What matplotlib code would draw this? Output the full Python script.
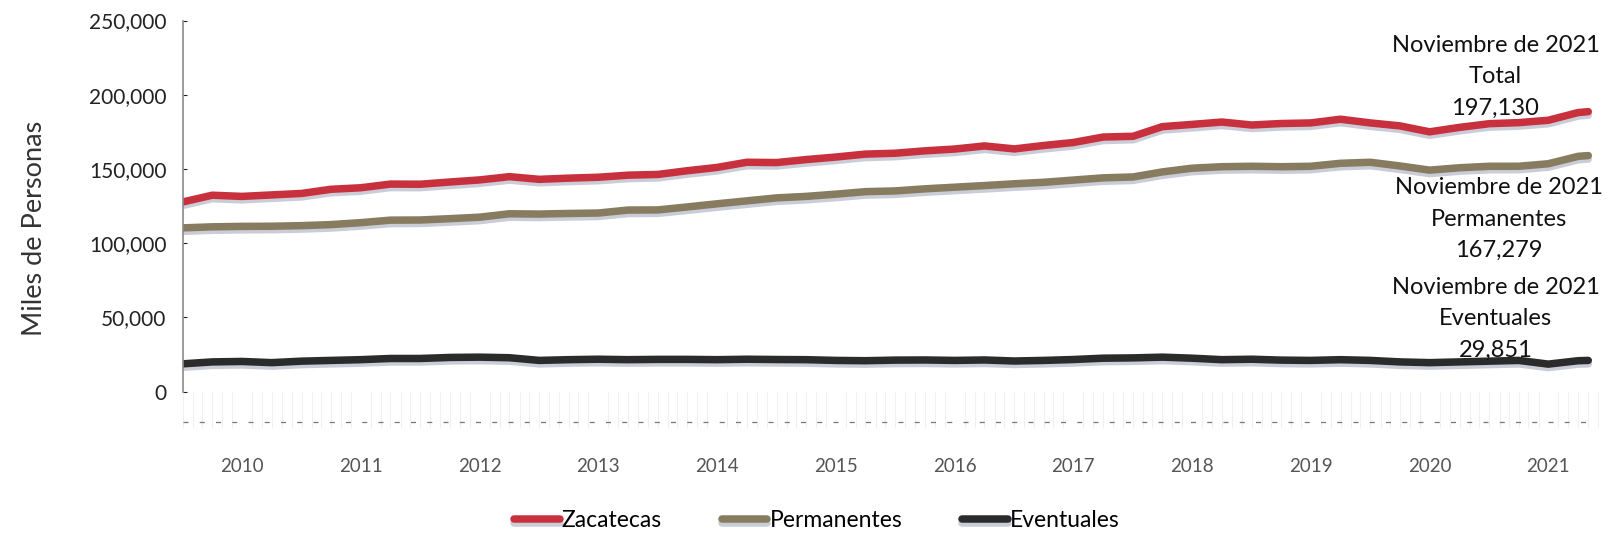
import pandas as pd
import matplotlib.pyplot as plt
import matplotlib.dates as mdates
import matplotlib.patheffects as pe
from matplotlib.ticker import FuncFormatter
from matplotlib.lines import Line2D

plt.rcParams['font.family'] = ['Lato', 'DejaVu Sans']

# quarterly readings (thousands of people), Jan 2010 .. Oct 2021, plus Nov 2021
fechas = list(pd.date_range('2010-01-01', periods=48, freq='3MS')) + [pd.Timestamp('2021-11-01')]

total = [127.8, 132.3, 131.5, 132.5, 133.5, 136.3, 137.3, 139.8, 139.7, 141.2, 142.6, 144.8,
         143.0, 143.8, 144.4, 145.8, 146.3, 148.8, 151.0, 154.5, 154.3, 156.3, 158.0, 160.0,
         160.6, 162.2, 163.4, 165.5, 163.5, 165.8, 167.8, 171.5, 172.0, 178.5, 180.0, 181.6,
         179.6, 180.6, 181.0, 183.5, 181.0, 179.0, 175.0, 178.0, 180.5, 181.2, 182.8, 188.0,
         188.6]
permanentes = [110.3, 111.0, 111.3, 111.4, 111.8, 112.5, 113.8, 115.5, 115.6, 116.5, 117.5, 119.8,
               119.6, 120.0, 120.3, 122.3, 122.4, 124.4, 126.5, 128.5, 130.5, 131.5, 133.0, 134.7,
               135.2, 136.6, 137.7, 138.8, 140.0, 141.0, 142.5, 144.0, 144.6, 148.0, 150.5, 151.5,
               151.8, 151.5, 151.8, 153.8, 154.5, 152.0, 149.2, 150.8, 151.8, 151.8, 153.5, 158.5,
               159.0]
eventuales = [18.7, 20.0, 20.3, 19.5, 20.5, 21.0, 21.5, 22.3, 22.3, 23.0, 23.2, 22.8,
              21.0, 21.5, 21.8, 21.5, 21.7, 21.7, 21.5, 21.8, 21.6, 21.5, 21.0, 20.8,
              21.2, 21.3, 21.0, 21.3, 20.6, 21.0, 21.6, 22.5, 22.7, 23.2, 22.5, 21.5,
              21.8, 21.2, 21.0, 21.5, 21.0, 20.0, 19.5, 20.0, 20.5, 21.0, 18.5, 20.8,
              21.0]

series = [('Zacatecas', total, '#c9303e'),
          ('Permanentes', permanentes, '#877c60'),
          ('Eventuales', eventuales, '#2b2b2b')]

notas = [('Noviembre de 2021\nTotal\n197,130', 0.930, 0.857),
         ('Noviembre de 2021\nPermanentes\n167,279', 0.932, 0.592),
         ('Noviembre de 2021\nEventuales\n29,851', 0.930, 0.406)]

fig = plt.figure(figsize=(16.08, 5.37), dpi=100)
ax = fig.add_axes([0.1138, 0.2708, 0.8800, 0.6910])

sombra = [pe.SimpleLineShadow(offset=(0, -2.5), shadow_color='#8a90aa', alpha=0.45),
          pe.Normal()]
for nombre, vals, color in series:
    ax.plot(fechas, [v * 1000 for v in vals], color=color, lw=5.4,
            solid_capstyle='round', label=nombre, path_effects=sombra)

ax.set_ylim(0, 250000)
ax.set_xlim(pd.Timestamp('2010-01-01'), pd.Timestamp('2021-12-01'))
ax.set_yticks(range(0, 250001, 50000))
ax.yaxis.set_major_formatter(FuncFormatter(lambda v, p: f'{v:,.0f}'))
ax.tick_params(axis='y', labelsize=15, colors='#222222', direction='in', length=3, pad=12)
ax.set_ylabel('Miles de Personas', fontsize=19.5, color='#333333')
ax.yaxis.set_label_coords(-0.096, 0.44)

# years centred mid-year, faint monthly ticks below the axis
ax.xaxis.set_major_locator(mdates.MonthLocator(bymonth=7, bymonthday=1))
ax.xaxis.set_major_formatter(mdates.DateFormatter('%Y'))
ax.xaxis.set_minor_locator(mdates.MonthLocator())
ax.tick_params(axis='x', which='major', length=0, pad=48, labelsize=13.5, labelcolor='#555555')
ax.tick_params(axis='x', which='minor', length=26, width=0.8, color='#edf1f7', direction='out')

for s in ['top', 'right', 'bottom']:
    ax.spines[s].set_visible(False)
ax.spines['left'].set_color('#8a8a8a')
ax.spines['left'].set_linewidth(1.2)

ax.add_line(Line2D([0, 0.995], [-0.082, -0.082], transform=ax.transAxes, clip_on=False,
                   color='#777777', lw=0.9, linestyle=(0, (4, 9))))

for texto, x, y in notas:
    fig.text(x, y, texto, ha='center', va='center', fontsize=17, color='#111111',
             linespacing=1.6)

fig.legend(loc='center', bbox_to_anchor=(0.508, 0.030), ncol=3, frameon=False,
           fontsize=16.5, handlelength=2.0, handletextpad=0.1, columnspacing=2.6)

fig.savefig('out.png', dpi=100)
